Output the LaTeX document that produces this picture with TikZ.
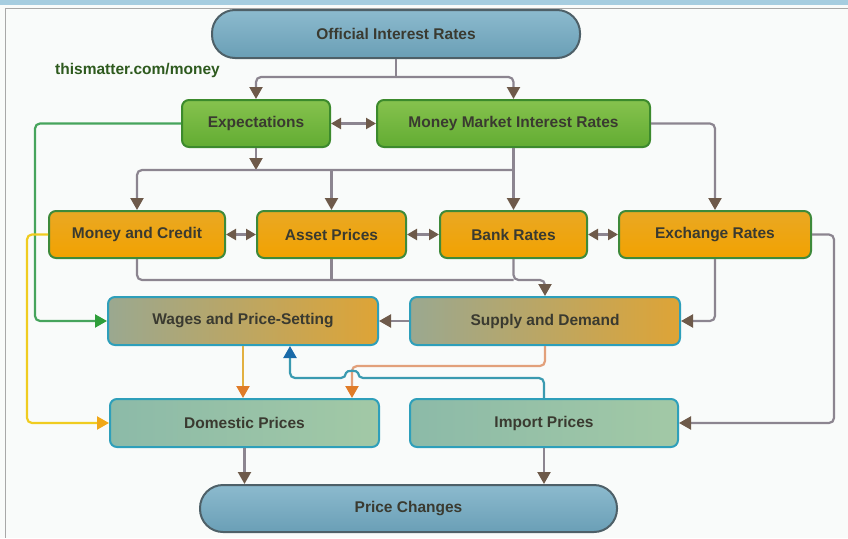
\documentclass[tikz,border=0pt]{standalone}
\usepackage{fontspec}
\setmainfont{Liberation Sans}
\usetikzlibrary{arrows.meta}
\definecolor{bg}{HTML}{F9FBFA}
\definecolor{strip}{HTML}{A6CDE0}
\definecolor{framegray}{HTML}{A8A8A8}
\definecolor{txt}{HTML}{3A3A30}
\definecolor{webgreen}{HTML}{2E5A1E}
\definecolor{pilltop}{HTML}{8CBACE}
\definecolor{pillbot}{HTML}{6A9FB6}
\definecolor{pillborder}{HTML}{4E6068}
\definecolor{greentop}{HTML}{86C24E}
\definecolor{greenbot}{HTML}{62AC32}
\definecolor{greenborder}{HTML}{3C8A2C}
\definecolor{orangetop}{HTML}{E9A824}
\definecolor{orangebot}{HTML}{F2A200}
\definecolor{orangeborder}{HTML}{3E8A3A}
\definecolor{midleft}{HTML}{9AA890}
\definecolor{midright}{HTML}{DEA436}
\definecolor{tealborder}{HTML}{2E9FBA}
\definecolor{lowleft}{HTML}{8CBAA8}
\definecolor{lowright}{HTML}{A2C9A6}
\definecolor{linegray}{HTML}{8C8590}
\definecolor{tipbrown}{HTML}{6E5A4A}
\definecolor{lgreen}{HTML}{46A45C}
\definecolor{tgreen}{HTML}{2E9E3A}
\definecolor{lyellow}{HTML}{F0CC20}
\definecolor{tyellow}{HTML}{F0A818}
\definecolor{lorange}{HTML}{E2B040}
\definecolor{lpink}{HTML}{E2A07A}
\definecolor{torange}{HTML}{E07C28}
\definecolor{lblue}{HTML}{3A9AB0}
\definecolor{tblue}{HTML}{1A6AA8}
\tikzset{
  box/.style={rounded corners=7pt, line width=2pt, font=\fontsize{15.5}{18}\selectfont\bfseries,
    text=txt, inner sep=0pt, minimum height=47pt},
  pill/.style={box, rounded corners=23pt, draw=pillborder, top color=pilltop, bottom color=pillbot},
  greenbox/.style={box, draw=greenborder, top color=greentop, bottom color=greenbot},
  orangebox/.style={box, draw=orangeborder, top color=orangetop, bottom color=orangebot},
  midbox/.style={box, draw=tealborder, left color=midleft, right color=midright, minimum height=48pt},
  lowbox/.style={box, draw=tealborder, left color=lowleft, right color=lowright, minimum height=48pt},
  tip/.style={-{Triangle[width=13pt,length=12pt,color=#1]}},
  conn/.style={draw=linegray, line width=2.2pt, rounded corners=5pt, tip=tipbrown},
  plain/.style={draw=linegray, line width=2.2pt, rounded corners=5pt},
  dbl/.style={draw=linegray, line width=2.2pt,
    {Triangle[width=11pt,length=10pt,color=tipbrown]}-{Triangle[width=11pt,length=10pt,color=tipbrown]}},
}
\begin{document}
\begin{tikzpicture}[x=1pt,y=-1pt]
\useasboundingbox (0,0) rectangle (848,538);
\fill[bg] (0,0) rectangle (848,538);
\fill[strip] (0,0) rectangle (848,5);
\draw[framegray, line width=0.8pt] (5,8.5) -- (848,8.5);
\draw[framegray, line width=1pt] (5.5,8.5) -- (5.5,538);

% nodes
\node[pill, minimum width=368pt, minimum height=48pt] (oir) at (396,34) {Official Interest Rates};
\node[font=\fontsize{15.5}{18}\selectfont\bfseries, text=webgreen, inner sep=0pt] (web) at (137.5,70) {thismatter.com/money};
\node[greenbox, minimum width=148pt] (exp) at (256,123.5) {Expectations};
\node[greenbox, minimum width=273pt] (mmir) at (513.5,123.5) {Money Market Interest Rates};
\node[orangebox, minimum width=176pt] (mc) at (137,234.5) {Money and Credit};
\node[orangebox, minimum width=149pt] (ap) at (331.5,234.5) {Asset Prices};
\node[orangebox, minimum width=147pt] (br) at (513.5,234.5) {Bank Rates};
\node[orangebox, minimum width=192pt] (er) at (715,234.5) {Exchange Rates};
\node[midbox, minimum width=270pt] (wp) at (243,321) {Wages and Price-Setting};
\node[midbox, minimum width=270pt] (sd) at (545,321) {Supply and Demand};
\node[lowbox, minimum width=269pt] (dp) at (244.5,423) {Domestic Prices};
\node[lowbox, minimum width=268pt] (ip) at (544,423) {Import Prices};
\node[pill, minimum width=417pt] (pc) at (408.5,508.5) {Price Changes};

% helper coordinates
\coordinate (split) at (396,77);
\coordinate (bus) at (0,170);
\coordinate (bus2) at (0,280);
\coordinate (gx) at (35,0);
\coordinate (yx) at (27,0);
\coordinate (rx) at (834,0);
\coordinate (k1) at (352,366);
\coordinate (hx) at (290,0);

% top split
\draw[plain] (oir.south) -- (split);
\draw[conn] (split) -| (exp.north);
\draw[conn] (split) -| (mmir.north);
\draw[dbl] (exp.east) -- (mmir.west);

% expectations -> wages (green)
\draw[draw=lgreen, line width=2.2pt, rounded corners=5pt, tip=tgreen]
  (exp.west) -- (exp.west -| gx) |- (wp.west);

% expectations bus
\draw[conn] (exp.south) -- (exp.south |- bus);
\draw[conn] (mmir.south |- bus) -| (mc.north);
\draw[conn] (ap.north |- bus) -- (ap.north);
\draw[conn] (mmir.south) -- (br.north);
\draw[conn] (mmir.east) -| (er.north);

% double arrows in orange row
\draw[dbl] (mc.east) -- (ap.west);
\draw[dbl] (ap.east) -- (br.west);
\draw[dbl] (br.east) -- (er.west);

% lower bus to supply and demand
\draw[plain] (mc.south) |- (br.south |- bus2);
\draw[plain] (ap.south) -- (ap.south |- bus2);
\draw[conn] (br.south) |- (sd.north |- bus2) -- (sd.north);
\draw[conn] (er.south) |- (sd.east);
\draw[conn] (sd.west) -- (wp.east);

% exchange rates -> import prices
\draw[conn] (er.east) -- (er.east -| rx) |- (ip.east);

% money and credit -> domestic prices (yellow)
\draw[draw=lyellow, line width=2.2pt, rounded corners=5pt, tip=tyellow]
  (mc.west) -- (mc.west -| yx) |- (dp.west);

% wages -> domestic prices
\draw[draw=lorange, line width=2.2pt, tip=torange] (wp.south) -- (wp.south |- dp.north);

% supply -> domestic prices
\draw[draw=lpink, line width=2.2pt, rounded corners=5pt, tip=torange]
  (sd.south) |- (k1) -- (k1 |- dp.north);

% import prices -> wages (blue, with hop)
\draw[draw=lblue, line width=2.2pt, rounded corners=5pt, tip=tblue]
  (ip.north) |- (358,378) .. controls (358,370) and (346,370) .. (346,378) -| (hx |- wp.south);

% to price changes
\draw[conn] (dp.south) -- (dp.south |- pc.north);
\draw[conn] (ip.south) -- (ip.south |- pc.north);
\end{tikzpicture}
\end{document}
